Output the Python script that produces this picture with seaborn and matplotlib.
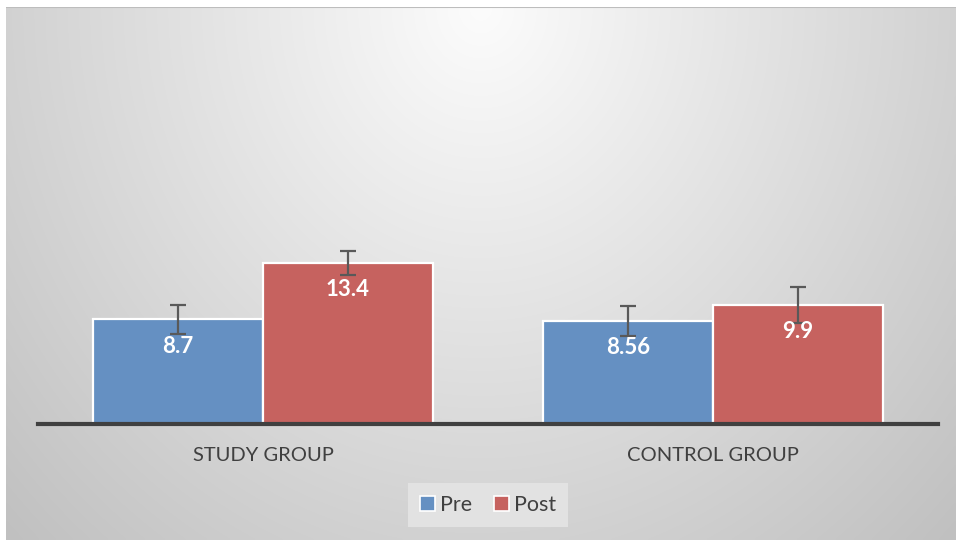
import numpy as np
import pandas as pd
import matplotlib
matplotlib.use("Agg")
import matplotlib.pyplot as plt
import seaborn as sns
from matplotlib.patches import Patch

groups = ["STUDY GROUP", "CONTROL GROUP"]
phases = ["Pre", "Post"]
pre_values = [8.7, 8.56]
post_values = [13.4, 9.9]
pre_err = [1.2, 1.25]
post_err = [1.0, 1.5]
value_labels_pre = ["8.7", "8.56"]
value_labels_post = ["13.4", "9.9"]

colors = {"Pre": "#6590C2", "Post": "#C6625F"}

df = pd.DataFrame({
    "group": groups * 2,
    "phase": ["Pre"] * 2 + ["Post"] * 2,
    "value": pre_values + post_values,
    "err": pre_err + post_err,
    "label": value_labels_pre + value_labels_post,
})

sns.set_theme(style="white")
plt.rcParams["font.family"] = ["Lato", "DejaVu Sans"]

W, H = 956, 540
fig = plt.figure(figsize=(W / 100, H / 100), dpi=100)
fig.patch.set_facecolor("white")

# background radial gradient panel
bg = fig.add_axes([6 / W, 0, (W - 6) / W, (H - 7) / H])
ny, nx = 200, 360
yy, xx = np.mgrid[0:1:ny * 1j, 0:1:nx * 1j]
d = np.sqrt(((xx - 0.5) / 0.5) ** 2 + (yy / 1.0) ** 2) / np.sqrt(2)
vals = (252 - 60 * d ** 1.0) / 255.0
bg.imshow(np.dstack([vals, vals, vals]), extent=[0, 1, 1, 0], aspect="auto",
          interpolation="bilinear")
bg.set_axis_off()
bg.axhline(0.0, color="#bdbdbd", lw=1.5)
bg.set_xlim(0, 1)
bg.set_ylim(1, 0)

# main axes
base_px = 423.5
top_px = 20
left_px, right_px = 38, 938
ax = fig.add_axes([left_px / W, 1 - base_px / H, (right_px - left_px) / W,
                   (base_px - top_px) / H])
ax.patch.set_alpha(0)
sns.barplot(data=df, x="group", y="value", hue="phase", order=groups,
            hue_order=phases, palette=colors, width=0.754, errorbar=None,
            edgecolor="white", linewidth=1.6, saturation=1, ax=ax, legend=False)

ax.set_xlim(-0.5, 1.5)
ax.set_ylim(0, (base_px - top_px) / 12.0)

for cont, ph in zip(ax.containers, phases):
    sub = df[df["phase"] == ph].set_index("group").loc[groups]
    xs = [p.get_x() + p.get_width() / 2 for p in cont.patches]
    ax.errorbar(xs, sub["value"].values, yerr=sub["err"].values, fmt="none",
                ecolor="#595959", elinewidth=1.6, capsize=6, capthick=1.6,
                zorder=5)
    for x, v, lab in zip(xs, sub["value"].values, sub["label"].values):
        ax.annotate(lab, (x, v), xytext=(0, -19.5), textcoords="offset points",
                    ha="center", va="center", color="white",
                    fontsize=16, fontweight="bold", zorder=6)

for s in ["top", "right", "left"]:
    ax.spines[s].set_visible(False)
ax.spines["bottom"].set_color("#404040")
ax.spines["bottom"].set_linewidth(3)
ax.set_yticks([])
ax.set_xlabel("")
ax.set_ylabel("")
ax.tick_params(axis="x", length=0, pad=17, labelsize=14.5, labelcolor="#404040")

handles = [Patch(facecolor=colors[p], edgecolor="white", linewidth=1.2, label=p)
           for p in phases]
leg = fig.legend(handles=handles, loc="center", bbox_to_anchor=(488 / W, 1 - 505 / H),
                 ncol=2, frameon=True, fontsize=15.5, handlelength=0.7,
                 handleheight=0.7, handletextpad=0.25, columnspacing=1.0,
                 borderpad=0.55, labelcolor="#404040")
leg.get_frame().set_facecolor("#e2e2e2")
leg.get_frame().set_edgecolor("none")
leg.get_frame().set_alpha(1)
leg.get_frame().set_boxstyle("square", pad=0)

fig.savefig("out.png", dpi=100)
